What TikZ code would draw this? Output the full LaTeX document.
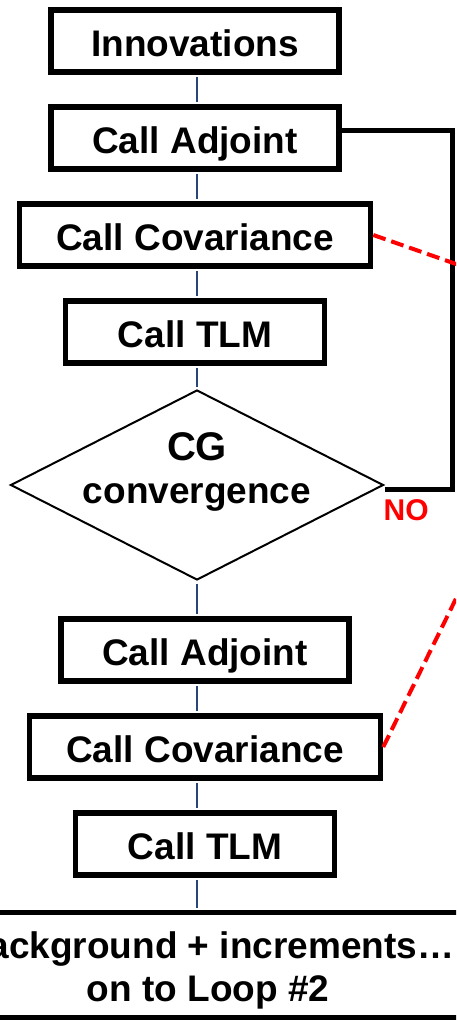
\documentclass[tikz,border=0pt]{standalone}
\usepackage{fontspec}
\setmainfont{Liberation Sans}
\usetikzlibrary{shapes.geometric}
\usetikzlibrary{positioning}
\definecolor{spineblue}{RGB}{40,70,120}
\definecolor{noRed}{RGB}{255,0,0}

\begin{document}
\begin{tikzpicture}[x=1pt, y=1pt, node distance=97pt, font=\bfseries\fontsize{37}{43}\selectfont]

\tikzstyle{callbox} = [rectangle, draw=black, line width=5.5pt, fill=white, minimum width=288pt, minimum height=62pt, text height=30pt, text depth=0pt, inner sep=0pt]
\tikzstyle{widebox} = [callbox, minimum width=351pt]
\tikzstyle{narrowbox} = [callbox, minimum width=259pt]
\tikzstyle{testdiamond} = [diamond, draw=black, line width=2pt, fill=white, aspect=1.95, minimum width=373pt, minimum height=190pt, inner sep=-12pt, align=center, text depth=34pt]
\tikzstyle{resultbar} = [rectangle, draw=black, line width=4.5pt, minimum width=700pt, minimum height=105pt, inner sep=0pt, align=center, text height=72pt, text depth=0pt]
\tikzstyle{nolabel} = [text=noRed, inner sep=0pt, font=\bfseries\fontsize{30}{36}\selectfont]
\tikzstyle{spine} = [spineblue, line width=1.2pt, shorten <=2.5pt, shorten >=2.5pt]
\tikzstyle{loopline} = [black, line width=5pt]
\tikzstyle{feedline} = [noRed, line width=4pt, dash pattern=on 13pt off 6pt]

\useasboundingbox (0,0) rectangle (456,-1020);
\clip (0,0) rectangle (456,-1020);

% first pass
\node (innov) [callbox] at (195,-41) {Innovations};
\node (adj1) [callbox, below of=innov] {Call Adjoint};
\node (cov1) [widebox, below of=adj1] {Call Covariance};
\node (tlm1) [narrowbox, below of=cov1] {Call TLM};
\node (cg) [testdiamond, node distance=153pt, below of=tlm1, xshift=2pt] {{\fontsize{40}{43}\selectfont CG}\\convergence};
\node (no) [nolabel, below right=14pt and -1pt of cg.east] {NO};

% second pass
\node (adj2) [callbox, node distance=165pt, below of=cg, xshift=8pt] {Call Adjoint};
\node (cov2) [widebox, below of=adj2] {Call Covariance};
\node (tlm2) [narrowbox, below of=cov2] {Call TLM};
\node (result) [resultbar, node distance=121pt, below of=tlm2, xshift=3pt] {Background + increments\dots\\on to Loop \#2};

\coordinate (spinex) at (197,0);
\coordinate (loopx) at (452,-300);
\coordinate (covtarget) at (596,-313);

\foreach \a/\b in {innov/adj1, adj1/cov1, cov1/tlm1, tlm1/cg, cg/adj2, adj2/cov2, cov2/tlm2, tlm2/result}
  \draw [spine] (spinex |- \a.south) -- (spinex |- \b.north);

\draw [loopline] ([yshift=8pt]adj1.east) -| (loopx) |- ([yshift=-4pt]cg.east);
\draw [feedline] (cov1.east) -- (covtarget);
\draw [feedline] (cov2.east) -- (covtarget);
\end{tikzpicture}
\end{document}
